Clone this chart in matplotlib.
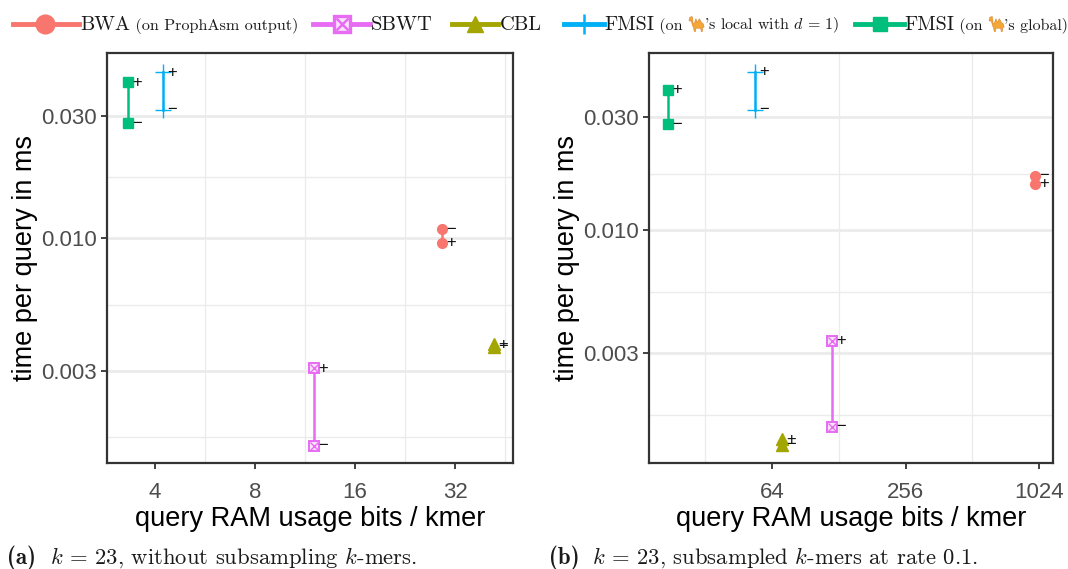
#!/usr/bin/env python3
"""Query time vs RAM usage for the two k=23 setups."""

import matplotlib

matplotlib.use("Agg")
import matplotlib.pyplot as plt
from matplotlib.lines import Line2D
from matplotlib.patches import Polygon

W, H = 1068, 569

TOOLS = ["BWA", "SBWT", "CBL", "FMSI local", "FMSI global"]
COLORS = ["#F8766D", "#E76BF3", "#A3A500", "#00B0F6", "#00BF7D"]

# bits per kmer, one per tool
RAM_A = [29.2, 12.04, 41.9, 4.23, 3.32]
RAM_B = [982, 119, 71, 53.6, 21.7]

# time per query in ms: "+" variant, "-" variant
PLUS_A = [0.00956, 0.00309, 0.00383, 0.0448, 0.0409]
MINUS_A = [0.0108, 0.00153, 0.00375, 0.0318, 0.0282]
PLUS_B = [0.01566, 0.00339, 0.0013, 0.0468, 0.0392]
MINUS_B = [0.01694, 0.00147, 0.00123, 0.0323, 0.0281]

X_TICKS_A = [4, 8, 16, 32]
X_TICKS_B = [64, 256, 1024]
X_MINOR_A = [5.66, 11.3, 22.6, 45.2]
X_MINOR_B = [32, 128, 512]
Y_TICKS = [0.003, 0.010, 0.030]
Y_MINOR = [0.00165, 0.00548, 0.0173]


def px_x(x):
    return x / W


def px_y(y):
    return 1 - y / H


def add_axes(fig, left, right, top, bottom):
    return fig.add_axes(
        [px_x(left), px_y(bottom), (right - left) / W, (bottom - top) / H]
    )


def draw_panel(ax, ram, plus, minus, xlim, ylim, xticks, xminor):
    ax.set_xscale("log", base=2)
    ax.set_yscale("log")
    ax.set_xlim(*xlim)
    ax.set_ylim(*ylim)
    ax.set_axisbelow(True)
    for v in xminor:
        ax.axvline(v, color="#ebebeb", linewidth=0.9, zorder=0)
    for v in Y_TICKS:
        ax.axhline(v, color="#ebebeb", linewidth=2.0, zorder=0)
    for v in Y_MINOR:
        ax.axhline(v, color="#ebebeb", linewidth=1.0, zorder=0)

    for i, tool in enumerate(TOOLS):
        ys = [plus[i], minus[i]]
        xs = [ram[i], ram[i]]
        ax.plot(xs, ys, color=COLORS[i], linewidth=1.8, zorder=2)
        draw_marker(ax, xs, ys, i)
        ax.annotate("+", (ram[i], plus[i]), xytext=(3, 0), textcoords="offset points",
                    fontsize=12, va="center", ha="left", color="#111111", zorder=4)
        ax.annotate("\u2212", (ram[i], minus[i]), xytext=(3, 0), textcoords="offset points",
                    fontsize=12, va="center", ha="left", color="#111111", zorder=4)

    ax.set_xticks(xticks)
    ax.set_xticklabels([str(v) for v in xticks])
    ax.set_yticks(Y_TICKS)
    ax.set_yticklabels([f"{v:.3f}" for v in Y_TICKS])
    ax.minorticks_off()
    ax.tick_params(axis="both", length=4.5, width=1.3, color="#333333",
                   labelcolor="#4d4d4d", labelsize=16)
    ax.tick_params(axis="x", pad=9.5)
    ax.tick_params(axis="y", pad=3)
    for spine in ax.spines.values():
        spine.set_color("#333333")
        spine.set_linewidth(1.6)
    ax.set_xlabel("query RAM usage bits / kmer", fontsize=19.5, color="black")
    ax.set_ylabel("time per query in ms", fontsize=19.5, color="black")
    ax.xaxis.set_label_coords(0.5, -0.105)
    ax.yaxis.set_label_coords(-0.17, 0.5)


def draw_marker(ax, xs, ys, i):
    color = COLORS[i]
    if i == 1:
        # open square with a cross through it
        ax.plot(xs, ys, ls="none", marker="s", ms=6.8, mfc="#fbe3fd", mec=color, mew=1.4, zorder=3)
        ax.plot(xs, ys, ls="none", marker="x", ms=5.5, mec=color, mew=1.0, zorder=3)
    elif i == 3:
        ax.plot(xs, ys, ls="none", marker="+", ms=11, mec=color, mew=1.0, zorder=3)
    else:
        marker = {0: "o", 2: "^", 4: "s"}[i]
        size = {0: 7.0, 2: 8.5, 4: 7.2}[i]
        ax.plot(xs, ys, ls="none", marker=marker, ms=size, mfc=color, mec=color, zorder=3)


def draw_camel(fig, x, y, size=14):
    # no emoji font here, so a small flat camel instead
    outline = [(0, .80), (.05, .95), (.20, 1.0), (.25, .75), (.25, .55), (.35, .55),
               (.45, .85), (.55, .60), (.68, .85), (.82, .60), (.95, .50), (1.0, .30),
               (.90, .25), (.88, 0), (.80, 0), (.78, .22), (.45, .22), (.42, 0), (.34, 0),
               (.30, .25), (.22, .40), (.15, .70), (0, .70)]
    pts = [(px_x(x + a * size), px_y(y - b * size)) for a, b in outline]
    fig.add_artist(Polygon(pts, closed=True, transform=fig.transFigure,
                           facecolor="#F4A636", edgecolor="#D9822B", linewidth=0.4))


def text_runs(fig, x, y, runs):
    """Write runs of text one after the other, x and y in pixels."""
    renderer = fig.canvas.get_renderer()
    for text, size in runs:
        if text == "CAMEL":
            draw_camel(fig, x, y + 2, size=15)
            x += 15
            continue
        t = fig.text(px_x(x), px_y(y), text, fontsize=size, family="cmr10",
                     color="#1a1a1a", va="baseline", ha="left")
        t.set_math_fontfamily("cm")
        x = t.get_window_extent(renderer).x1 + size * 0.1 * (text.endswith(" "))
    return x


def draw_legend(fig):
    entries = [
        (13, 79, 45, 0, [("BWA", 14.5), (" (on ProphAsm output)", 11.7)], 80),
        (313, 370, 342, 1, [("SBWT", 14.8)], 371),
        (452, 498, 475, 2, [("CBL", 14.8)], 500),
        (564, 604, 584, 3, [("FMSI", 14.5), (" (on ", 11.5), ("CAMEL", 11.5),
                            ("'s local with $d$ = 1)", 11.5)], 604),
        (855, 904, 880, 4, [("FMSI", 14.5), (" (on ", 11.5), ("CAMEL", 11.5),
                            ("'s global)", 11.5)], 904),
    ]
    y = 23.5
    for x0, x1, xm, i, runs, xt in entries:
        fig.add_artist(Line2D([px_x(x0), px_x(x1)], [px_y(y), px_y(y)], color=COLORS[i],
                              linewidth=3.5, transform=fig.transFigure))
        marker = {0: "o", 1: "s", 2: "^", 3: "+", 4: "s"}[i]
        size = {0: 13.5, 1: 11.5, 2: 11, 3: 14.5, 4: 10}[i]
        style = {"mfc": COLORS[i], "mec": COLORS[i]}
        if i == 1:
            style = {"mfc": "#fbe3fd", "mec": COLORS[i], "mew": 2.4}
        elif i == 3:
            style["mew"] = 1.8
        fig.add_artist(Line2D([px_x(xm)], [px_y(y)], marker=marker, ms=size, color=COLORS[i],
                              transform=fig.transFigure, **style))
        if i == 1:
            fig.add_artist(Line2D([px_x(xm)], [px_y(y)], marker="x", ms=8, mew=1.8,
                                  color=COLORS[i], transform=fig.transFigure))
        text_runs(fig, xt, y + 6, runs)


def caption(fig, x, body_x, label, body):
    fig.text(px_x(x), px_y(564), label, fontsize=16.5, family="cmb10",
             color="#1a1a1a", va="baseline")
    t = fig.text(px_x(body_x), px_y(564), body, fontsize=16.3, family="cmr10",
                 color="#1a1a1a", va="baseline")
    t.set_math_fontfamily("cm")


def main():
    plt.rcParams["font.family"] = ["Liberation Sans", "DejaVu Sans"]
    plt.rcParams["mathtext.fontset"] = "cm"

    fig = plt.figure(figsize=(W / 100, H / 100), dpi=100)
    fig.canvas.draw()

    ax_a = add_axes(fig, 107, 513, 53, 463)
    draw_panel(ax_a, RAM_A, PLUS_A, MINUS_A, (2.87, 47.8), (0.00131, 0.0532),
               X_TICKS_A, X_MINOR_A)
    ax_b = add_axes(fig, 649, 1053, 53, 463)
    draw_panel(ax_b, RAM_B, PLUS_B, MINUS_B, (17.84, 1184), (0.00103, 0.0562),
               X_TICKS_B, X_MINOR_B)

    draw_legend(fig)
    caption(fig, 7, 50, "(a)", "$k$ = 23, without subsampling $k$-mers.")
    caption(fig, 549, 592, "(b)", "$k$ = 23, subsampled $k$-mers at rate 0.1.")

    fig.savefig("out.png", dpi=100)


if __name__ == "__main__":
    main()
